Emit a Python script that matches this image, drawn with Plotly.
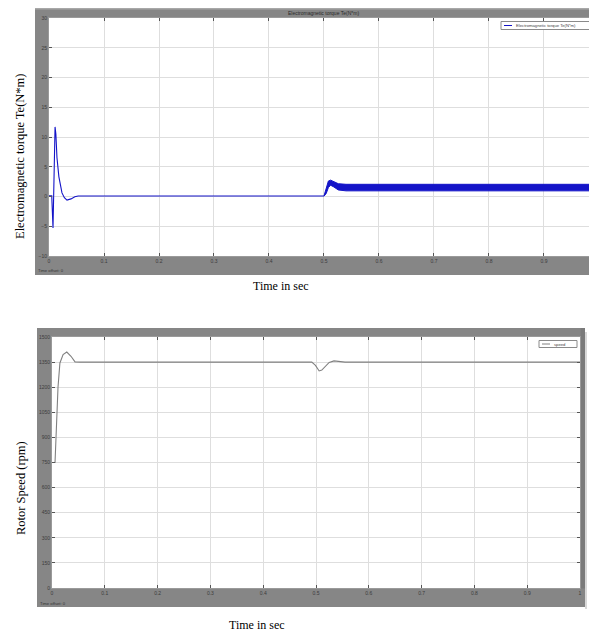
import plotly.graph_objects as go

# The page body has an 8 px margin, so the figure is drawn 8 px right/down.
OFF = 8
W, H = 597 - OFF, 633 - OFF

# ---------------- data ----------------
# Electromagnetic torque (N*m) vs time (s)
t_torque = [0, 0.005, 0.0073, 0.0095, 0.011, 0.0125, 0.0145, 0.018, 0.0236, 0.028,
            0.0327, 0.040, 0.047, 0.053, 0.1, 0.2, 0.3, 0.4, 0.5]
te_torque = [0.1, 0.1, -5.3, 9.5, 11.7, 10.5, 6.5, 3.3, 0.6, -0.2,
             -0.6, -0.4, -0.05, 0.08, 0.08, 0.08, 0.08, 0.08, 0.08]

# ripple band after load step (upper / lower envelope)
t_band = [0.5, 0.504, 0.508, 0.512, 0.518, 0.526, 0.54, 0.6, 0.7, 0.8, 0.9, 1.0]
te_upper = [0.1, 1.6, 2.6, 2.75, 2.55, 2.15, 2.05, 2.05, 2.05, 2.05, 2.05, 2.05]
te_lower = [0.05, 0.5, 1.5, 1.9, 1.6, 1.1, 0.95, 0.95, 0.95, 0.95, 0.95, 0.95]

# Rotor speed (rpm) vs time (s)
t_speed = [0.0057, 0.0095, 0.0114, 0.015, 0.021, 0.028, 0.036, 0.0436, 0.053, 0.1,
           0.2, 0.3, 0.4, 0.492, 0.499, 0.506, 0.511, 0.517, 0.525, 0.534, 0.545,
           0.555, 0.6, 0.7, 0.8, 0.9, 1.0]
n_speed = [747, 1004, 1201, 1345, 1395, 1410, 1385, 1351, 1350, 1350,
           1350, 1350, 1350, 1350, 1330, 1297, 1302, 1322, 1348, 1357, 1354,
           1350, 1350, 1350, 1350, 1350, 1350]

x_ticks = [0, 0.1, 0.2, 0.3, 0.4, 0.5, 0.6, 0.7, 0.8, 0.9, 1.0]
x_ticklabels = ["0", "0.1", "0.2", "0.3", "0.4", "0.5", "0.6", "0.7", "0.8", "0.9", "1"]
te_ticks = [-10, -5, 0, 5, 10, 15, 20, 25, 30]
speed_ticks = [0, 150, 300, 450, 600, 750, 900, 1050, 1200, 1350, 1500]

torque_title = "Electromagnetic torque Te(N*m)"
speed_title = "Rotor Speed (rpm)"
time_title = "Time in sec"

# ---------------- helpers (window pixels -> paper fractions) ----------------
def px(x):
    return (x - OFF) / W

def py(y):
    return 1 - (y - OFF) / H

FRAME = "#868686"
GRID = "#dedede"
BLUE = "#1414c8"

fig = go.Figure()

fig.add_trace(go.Scatter(x=t_torque, y=te_torque, mode="lines",
                         line=dict(color=BLUE, width=1.1), xaxis="x", yaxis="y",
                         showlegend=False))
fig.add_trace(go.Scatter(x=t_band, y=te_lower, mode="lines",
                         line=dict(color=BLUE, width=1), xaxis="x", yaxis="y",
                         showlegend=False))
fig.add_trace(go.Scatter(x=t_band, y=te_upper, mode="lines", fill="tonexty",
                         fillcolor=BLUE, line=dict(color=BLUE, width=1),
                         xaxis="x", yaxis="y", showlegend=False))
fig.add_trace(go.Scatter(x=t_speed, y=n_speed, mode="lines",
                         line=dict(color="#808080", width=1.1), xaxis="x2", yaxis="y2",
                         showlegend=False))

tickfont = dict(family="Liberation Sans", size=5, color="#3c3c3c")
common_x = dict(tickmode="array", tickvals=x_ticks, ticktext=x_ticklabels,
                showgrid=True, gridcolor=GRID, gridwidth=1, zeroline=False,
                ticks="inside", ticklen=3, tickcolor="#555555", mirror="ticks",
                showline=True, linecolor="#9a9a9a", linewidth=1,
                tickfont=tickfont, automargin=False, fixedrange=True)
common_y = dict(showgrid=True, gridcolor=GRID, gridwidth=1, zeroline=False,
                ticks="inside", ticklen=3, tickcolor="#555555", mirror="ticks",
                showline=True, linecolor="#9a9a9a", linewidth=1,
                tickfont=tickfont, automargin=False, fixedrange=True)

fig.update_layout(
    width=W, height=H, template="none",
    margin=dict(l=0, r=0, t=0, b=0, pad=0),
    paper_bgcolor="white", plot_bgcolor="white",
    xaxis=dict(domain=[px(49), 1], range=[0, 0.9964], anchor="y", **common_x),
    yaxis=dict(domain=[py(256), py(18)], range=[-10, 30], tickvals=te_ticks,
               anchor="x", **common_y),
    xaxis2=dict(domain=[px(52), px(580)], range=[0, 1], anchor="y2", **common_x),
    yaxis2=dict(domain=[py(588), py(337)], range=[0, 1500], tickvals=speed_ticks,
                anchor="x2", **common_y),
)

shapes = []
def band(x0, y0, x1, y1, color=FRAME):
    shapes.append(dict(type="rect", xref="paper", yref="paper",
                       x0=px(x0), x1=px(x1), y0=py(y1), y1=py(y0),
                       fillcolor=color, line=dict(width=0), layer="below"))

# top scope frame
band(35, 8, 597, 17.5)
band(35, 8, 48.5, 275)
band(35, 256.5, 597, 275)
band(35, 8, 597, 9.5, "#a8a8a8")
# bottom scope frame
band(37, 328, 585, 336.5)
band(37, 328, 51.5, 607)
band(580.5, 328, 585, 607, "#7a7a7a")
band(37, 588.5, 585, 607)
band(585, 332, 587, 609, "#d8d8d8")

# legend boxes
def legend_box(x0, y0, x1, y1, color):
    shapes.append(dict(type="rect", xref="paper", yref="paper",
                       x0=px(x0), x1=px(x1), y0=py(y1), y1=py(y0),
                       fillcolor="white", line=dict(color="#8a8a8a", width=1),
                       layer="above"))
    shapes.append(dict(type="line", xref="paper", yref="paper",
                       x0=px(x0 + 3), x1=px(x0 + 11), y0=py((y0 + y1) / 2),
                       y1=py((y0 + y1) / 2), line=dict(color=color, width=1),
                       layer="above"))

legend_box(501, 21.5, 594, 29.5, BLUE)
legend_box(539, 340.5, 577, 347.5, "#808080")
fig.update_layout(shapes=shapes)

ann = []
def text(x, y, s, size, angle=0, family="Liberation Serif", color="black", xanchor="center"):
    ann.append(dict(xref="paper", yref="paper", x=px(x), y=py(y), text=s,
                    showarrow=False, textangle=angle, xanchor=xanchor, yanchor="middle",
                    font=dict(family=family, size=size, color=color)))

text(20, 156, torque_title, 12.5, -90)
text(21, 488, speed_title, 12.5, -90)
text(281, 286, time_title, 12)
text(257, 625, time_title, 12)
text(323, 13, torque_title, 5, family="Liberation Sans", color="#2a2a2a")
text(514, 25.5, "Electromagnetic torque Te(N*m)", 4.2, family="Liberation Sans",
     color="#444444", xanchor="left")
text(552, 344, "speed", 4.2, family="Liberation Sans", color="#444444", xanchor="left")
text(36, 270, "Time offset: 0", 4.2, family="Liberation Sans", color="#333333", xanchor="left")
text(38, 603, "Time offset: 0", 4.2, family="Liberation Sans", color="#333333", xanchor="left")
fig.update_layout(annotations=ann)

fig.write_html("out.html")
